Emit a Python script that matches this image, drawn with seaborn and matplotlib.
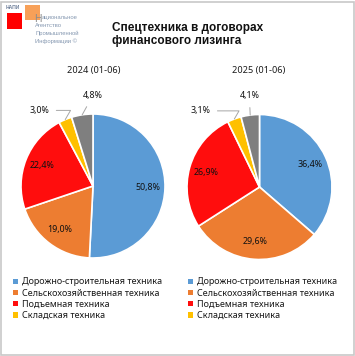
import matplotlib
matplotlib.use("Agg")
import matplotlib.pyplot as plt
import seaborn as sns
from matplotlib.patches import Patch, Rectangle
import numpy as np

categories = ["Дорожно-строительная техника", "Сельскохозяйственная техника",
              "Подъемная техника", "Складская техника", "Прочее"]
values_2024 = [50.8, 19.0, 22.4, 3.0, 4.8]
values_2025 = [36.4, 29.6, 26.9, 3.1, 4.1]
labels_2024 = ["50,8%", "19,0%", "22,4%", "3,0%", "4,8%"]
labels_2025 = ["36,4%", "29,6%", "26,9%", "3,1%", "4,1%"]
subtitles = ["2024 (01-06)", "2025 (01-06)"]
title = "Спецтехника в договорах\nфинансового лизинга"
colors = ["#5B9BD5", "#ED7D31", "#FF0D0D", "#FFC000", "#7F7F7F"]

sns.set_theme(style="white")
plt.rcParams['font.family'] = ['Noto Sans', 'DejaVu Sans']

W, H = 355, 356
fig = plt.figure(figsize=(W / 100, H / 100), dpi=100)
fig.patch.set_facecolor("white")

# border
fig.add_artist(Rectangle((1.5 / W, 1.5 / H), (W - 3) / W, (H - 3) / H,
                         transform=fig.transFigure, fill=False,
                         edgecolor="#C8C8C8", linewidth=1.2))

LIM = 1.35

def px_axes(cx, cy, r):
    size = 2 * LIM * r
    ax = fig.add_axes([(cx - size / 2) / W, 1 - (cy + size / 2) / H, size / W, size / H])
    ax.patch.set_alpha(0)
    return ax

def draw_pie(ax, vals, labs, outside_pos):
    wedges, _ = ax.pie(vals, colors=colors, startangle=90, counterclock=False,
                       radius=1.0, wedgeprops=dict(edgecolor="white", linewidth=1.2))
    ax.set_xlim(-LIM, LIM)
    ax.set_ylim(-LIM, LIM)
    ax.set_aspect("equal")
    ax.axis("off")
    for i, (w, lab) in enumerate(zip(wedges, labs)):
        ang = np.deg2rad((w.theta1 + w.theta2) / 2)
        if i < 3:
            ax.text(0.76 * np.cos(ang), 0.76 * np.sin(ang), lab, ha="center", va="center",
                    fontsize=6.4, color="#111111", fontweight="medium")
        else:
            tx, ty = outside_pos[i - 3]
            cs = "angle,angleA=0,angleB=60,rad=0" if i == 3 else "arc3"
            ax.annotate(lab, xy=(1.0 * np.cos(ang), 1.0 * np.sin(ang)), xytext=(tx, ty),
                        ha="center", va="center", fontsize=6.4, color="#111111",
                        fontweight="medium",
                        arrowprops=dict(arrowstyle="-", color="#A6A6A6", lw=0.7,
                                        shrinkA=3, shrinkB=0, connectionstyle=cs))

ax1 = px_axes(93, 186, 72)
draw_pie(ax1, values_2024, labels_2024, [(-0.75, 1.05), (0.0, 1.26)])
ax2 = px_axes(259.5, 187, 72.5)
draw_pie(ax2, values_2025, labels_2025, [(-0.82, 1.05), (-0.14, 1.26)])

fig.text(94 / W, 1 - 71 / H, subtitles[0], ha="center", va="center", fontsize=6.6, color="#1A1A1A")
fig.text(259 / W, 1 - 71 / H, subtitles[1], ha="center", va="center", fontsize=6.6, color="#1A1A1A")

fig.text(112 / W, 1 - 34.5 / H, title, ha="left", va="center", fontsize=8.5,
         fontweight="bold", color="#111111", linespacing=1.2,
         family=['Liberation Sans', 'DejaVu Sans'])

# logo
fig.add_artist(Rectangle((25 / W, 1 - 20 / H), 15 / W, 15 / H, transform=fig.transFigure,
                         facecolor="#F79646", edgecolor="none", alpha=0.9))
fig.add_artist(Rectangle((7 / W, 1 - 29 / H), 15 / W, 16 / H, transform=fig.transFigure,
                         facecolor="#FF0000", edgecolor="none"))
fig.text(6 / W, 1 - 7.5 / H, "НАПИ", fontsize=3.6, color="#6E7F99", va="center", ha="left",
         family=['Liberation Sans', 'DejaVu Sans'], fontweight="bold")
big_n = fig.text(34 / W, 1 - 19 / H, "Н", fontsize=7.5, color="#8C8C8C", va="center", ha="left",
                 family=['Liberation Sans', 'DejaVu Sans'])
fig.canvas.draw()
bb = big_n.get_window_extent()
logo_lines = ["ациональное", "Агентство", "Промышленной", "Информации ©"]
for k, t in enumerate(logo_lines):
    x0 = (bb.x1 + 0.3) if k == 0 else 35
    fig.text(x0 / W, 1 - (17 + 8.2 * k) / H, t, fontsize=4.2, color="#8497B0", va="center",
             ha="left", family=['Liberation Sans', 'DejaVu Sans'])

# legends
handles = [Patch(facecolor=c, edgecolor="none") for c in colors[:4]]
for x0 in (13, 188):
    leg = fig.legend(handles, categories[:4], loc="upper left",
                     bbox_to_anchor=(x0 / W, 1 - 277.5 / H), frameon=False,
                     fontsize=6.5, handlelength=0.5, handleheight=0.5,
                     handletextpad=0.45, labelspacing=0.25, borderpad=0, borderaxespad=0)
    for t in leg.get_texts():
        t.set_color("#1A1A1A")

fig.savefig("out.png", dpi=100, facecolor="white")
